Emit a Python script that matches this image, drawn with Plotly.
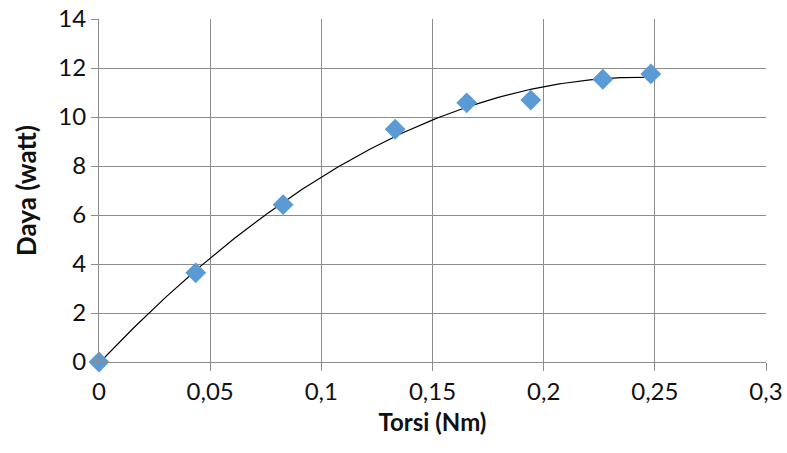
import numpy as np
import plotly.graph_objects as go

torsi = [0.0, 0.0435, 0.0828, 0.1332, 0.1654, 0.1942, 0.2266, 0.2482]
daya = [0.0, 3.64, 6.42, 9.50, 10.58, 10.69, 11.54, 11.76]

x_title = "Torsi (Nm)"
y_title = "Daya (watt)"

# polynomial (order 2) trendline as in the spreadsheet chart
coef = np.polyfit(torsi, daya, 2)
xs = np.linspace(min(torsi), max(torsi), 200)
ys = np.polyval(coef, xs)

fig = go.Figure()
fig.add_trace(go.Scatter(x=xs, y=ys, mode="lines", cliponaxis=False,
                         line=dict(color="black", width=1.2), hoverinfo="skip", showlegend=False))
fig.add_trace(go.Scatter(x=torsi, y=daya, mode="markers", cliponaxis=False,
                         marker=dict(symbol="diamond", size=16, color="#5B9BD5"),
                         showlegend=False))

font = "Lato, 'Open Sans', sans-serif"
grid = "#8c8c8c"
fig.update_layout(
    width=787, height=453,
    margin=dict(l=99, r=21, t=19, b=91),
    paper_bgcolor="white", plot_bgcolor="white",
    separators=", ",
    font=dict(family=font, size=24, color="#111111"),
)
fig.update_xaxes(range=[0, 0.3], tickvals=[0, 0.05, 0.1, 0.15, 0.2, 0.25, 0.3],
                 automargin=False, tickfont=dict(size=24),
                 showgrid=True, gridcolor=grid, gridwidth=1,
                 showline=True, linecolor=grid, zeroline=False,
                 ticks="outside", ticklen=8, tickcolor=grid,
                 title=dict(text="<b>" + x_title + "</b>", font=dict(size=24), standoff=10))
fig.update_yaxes(range=[0, 14], tickvals=list(range(0, 15, 2)),
                 automargin=False, tickfont=dict(size=24),
                 showgrid=True, gridcolor=grid, gridwidth=1,
                 showline=True, linecolor=grid, zeroline=False,
                 ticks="outside", ticklen=7, tickcolor=grid,
                 title=dict(text="<b>" + y_title + "</b>", font=dict(size=26), standoff=14))

fig.write_html("out.html", config={"displayModeBar": False},
               post_script="document.body.style.margin='0';")
